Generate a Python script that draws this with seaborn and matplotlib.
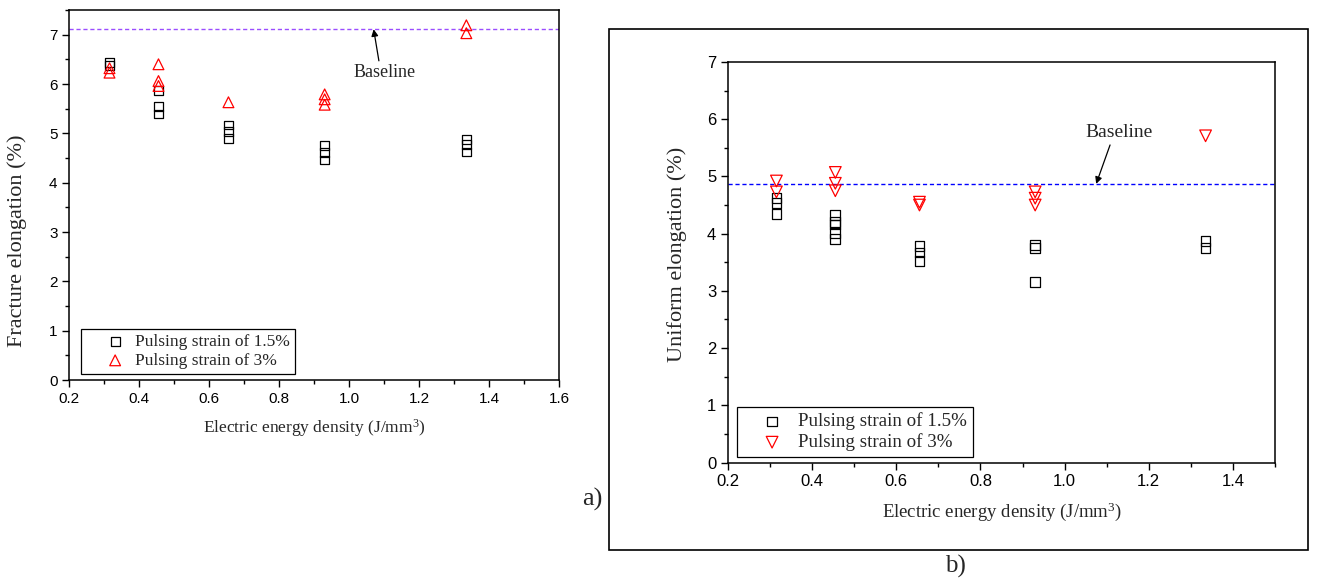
import matplotlib
matplotlib.use("Agg")
import matplotlib.pyplot as plt
import seaborn as sns
import pandas as pd
from matplotlib.patches import Rectangle
from matplotlib.ticker import MultipleLocator

# ---------------- data ----------------
# panel a) fracture elongation
fe_x_15 = [0.315, 0.315, 0.455, 0.455, 0.455, 0.655, 0.655, 0.655,
           0.93, 0.93, 0.93, 1.335, 1.335, 1.335]
fe_y_15 = [6.43, 6.38, 5.87, 5.55, 5.39, 5.17, 5.04, 4.90,
           4.76, 4.61, 4.46, 4.88, 4.78, 4.62]
fe_x_3 = [0.315, 0.315, 0.455, 0.455, 0.455, 0.655, 0.93, 0.93, 0.93, 1.335, 1.335]
fe_y_3 = [6.32, 6.23, 6.40, 6.06, 5.96, 5.63, 5.79, 5.69, 5.58, 7.19, 7.03]
fe_baseline = 7.11

# panel b) uniform elongation
ue_x_15 = [0.315, 0.315, 0.315, 0.455, 0.455, 0.455, 0.455, 0.455,
           0.655, 0.655, 0.655, 0.93, 0.93, 0.93, 1.335, 1.335]
ue_y_15 = [4.63, 4.54, 4.34, 4.32, 4.16, 4.01, 4.20, 3.90,
           3.79, 3.67, 3.52, 3.80, 3.75, 3.15, 3.87, 3.75]
ue_x_3 = [0.315, 0.315, 0.455, 0.455, 0.455, 0.655, 0.655, 0.93, 0.93, 0.93, 1.335]
ue_y_3 = [4.92, 4.73, 5.07, 4.88, 4.75, 4.55, 4.50, 4.73, 4.62, 4.50, 5.71]
ue_baseline = 4.87

series_labels = ["Pulsing strain of 1.5%", "Pulsing strain of 3%"]
x_label = "Electric energy density (J/mm$^3$)"
y_label_a = "Fracture elongation (%)"
y_label_b = "Uniform elongation (%)"

# ---------------- style ----------------
sns.set_theme(style="white")
plt.rcParams["font.family"] = ["Liberation Sans", "DejaVu Sans"]
plt.rcParams["mathtext.fontset"] = "custom"
plt.rcParams["mathtext.rm"] = "Liberation Serif"
plt.rcParams["mathtext.it"] = "Liberation Serif:italic"

SERIF = ["Liberation Serif", "DejaVu Serif"]

fig = plt.figure(figsize=(13.17, 5.85), dpi=100)
ax_a = fig.add_axes([0.0526, 0.3504, 0.3719, 0.6325])
ax_b = fig.add_axes([0.5528, 0.2094, 0.4153, 0.6846])


def draw(ax, x15, y15, x3, y3, tri_marker, base, base_color, xlim, ylim,
         ylabel, text_xy, arrow_head, arrow_tail, leg_anchor, cfg):
    d15 = pd.DataFrame({"x": x15, "y": y15})
    d3 = pd.DataFrame({"x": x3, "y": y3})
    sns.scatterplot(data=d15, x="x", y="y", ax=ax, marker="s", s=cfg["sq"],
                    color="black", facecolor="none", edgecolor="black",
                    linewidth=0.9, label=series_labels[0], zorder=3)
    sns.scatterplot(data=d3, x="x", y="y", ax=ax, marker=tri_marker,
                    s=cfg["tri"], color="red", facecolor="none",
                    edgecolor="red", linewidth=0.9, label=series_labels[1],
                    zorder=4)
    ax.axhline(base, color=base_color, linestyle=(0, (3, 2)), linewidth=1.0,
               zorder=2)
    ax.annotate("", xy=arrow_head, xytext=arrow_tail, textcoords="data",
                arrowprops=dict(arrowstyle="-|>", color="black", lw=0.9,
                                mutation_scale=10, shrinkA=0, shrinkB=0))
    ax.text(text_xy[0], text_xy[1], "Baseline", fontsize=cfg["base_fs"],
            family=SERIF, ha="center", va="center")
    ax.set_xlim(*xlim)
    ax.set_ylim(*ylim)
    ax.xaxis.set_major_locator(MultipleLocator(0.2))
    ax.xaxis.set_minor_locator(MultipleLocator(0.1))
    ax.yaxis.set_major_locator(MultipleLocator(1))
    ax.yaxis.set_minor_locator(MultipleLocator(0.5))
    ax.xaxis.set_major_formatter(plt.FuncFormatter(lambda v, p: f"{v:.1f}"))
    ax.yaxis.set_major_formatter(plt.FuncFormatter(lambda v, p: f"{v:.0f}"))
    ax.tick_params(axis="both", which="both", direction="out",
                   bottom=True, left=True, top=False, right=False,
                   labelsize=cfg["tick_fs"], colors="black")
    ax.tick_params(which="major", length=5, width=1)
    ax.tick_params(which="minor", length=3, width=1)
    for sp in ax.spines.values():
        sp.set_color("black")
        sp.set_linewidth(1.1)
    ax.set_xlabel(x_label, family=SERIF, fontsize=cfg["xl_fs"], labelpad=8)
    ax.set_ylabel(ylabel, family=SERIF, fontsize=cfg["yl_fs"])
    ax.yaxis.set_label_coords(cfg["yl_x"], cfg["yl_y"])
    leg = ax.legend(loc="lower left", bbox_to_anchor=leg_anchor,
                    borderaxespad=0, frameon=True, fancybox=False,
                    framealpha=1, edgecolor="black",
                    prop={"family": SERIF, "size": cfg["leg_fs"]},
                    handletextpad=cfg["htp"], labelspacing=0.15,
                    borderpad=0.3, handlelength=cfg["hl"])
    leg.get_frame().set_linewidth(0.9)


cfg_a = dict(sq=40, tri=60, base_fs=13, tick_fs=11, xl_fs=12.5, yl_fs=16,
             yl_x=-0.086, yl_y=0.376, leg_fs=12.5, htp=-0.52, hl=3.33)
cfg_b = dict(sq=50, tri=70, base_fs=14, tick_fs=12, xl_fs=13.5, yl_fs=16,
             yl_x=-0.075, yl_y=0.52, leg_fs=13.7, htp=-0.17, hl=3.08)

draw(ax_a, fe_x_15, fe_y_15, fe_x_3, fe_y_3, "^", fe_baseline, "#9b4dff",
     (0.2, 1.6), (0, 7.5), y_label_a, (1.10, 6.24), (1.07, 7.11),
     (1.085, 6.47), (0.024, 0.016), cfg_a)
draw(ax_b, ue_x_15, ue_y_15, ue_x_3, ue_y_3, "v", ue_baseline, "#0000ff",
     (0.2, 1.5), (0, 7), y_label_b, (1.13, 5.76), (1.075, 4.87),
     (1.108, 5.55), (0.0165, 0.014), cfg_b)

# frame around panel b
fig.patches.append(Rectangle((0.4624, 0.0598), 0.5308, 0.8906,
                             transform=fig.transFigure, fill=False,
                             edgecolor="black", linewidth=1.2))
fig.text(0.4495, 0.147, "a)", family=SERIF, fontsize=19, ha="center",
         va="center")
fig.text(0.7255, 0.031, "b)", family=SERIF, fontsize=18, ha="center",
         va="center")

fig.savefig("out.png", dpi=100)
